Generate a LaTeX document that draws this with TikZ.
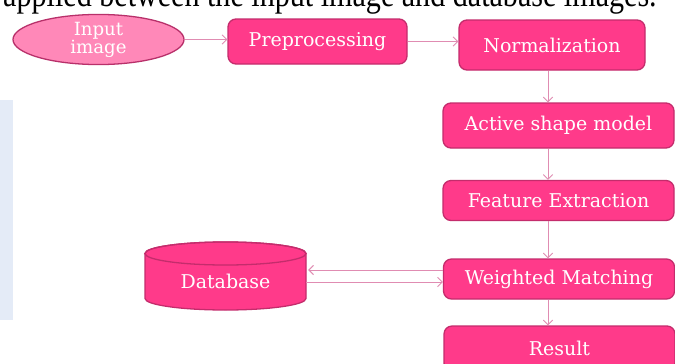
\documentclass[tikz,border=0pt]{standalone}
\usepackage{fontspec}
\setmainfont{DejaVu Serif}
\newfontfamily\topfont{Liberation Serif}
\usetikzlibrary{arrows.meta,shapes.geometric}
\definecolor{boxfill}{HTML}{FF3A8A}
\definecolor{boxline}{HTML}{C42C6C}
\definecolor{ellfill}{HTML}{FF88B8}
\definecolor{ellline}{HTML}{B8306A}
\definecolor{arrcol}{HTML}{E08CB2}
\definecolor{sidecol}{HTML}{E4EBF7}
\tikzset{
  stepbox/.style={draw=boxline, line width=1.1pt, fill=boxfill, rounded corners=0.24cm,
    text=white, font=\fontsize{16.2}{18}\selectfont, inner sep=0pt},
  startell/.style={ellipse, draw=ellline, line width=1.1pt, fill=ellfill,
    text=white, font=\fontsize{15.5}{15.5}\selectfont, align=center, inner sep=0pt},
  arr/.style={draw=arrcol, line width=0.8pt, -{Straight Barb[length=1.4mm,width=2.8mm]}},
}
\begin{document}
\begin{tikzpicture}[x=0.03cm,y=-0.03cm]
\useasboundingbox (0,0) rectangle (675,363);
\clip (0,0) rectangle (675,363);
\fill[white] (0,0) rectangle (675,363);
\fill[sidecol] (0,100) rectangle (13,320);
\node[anchor=base west, inner sep=0pt] (toptext) at (3,6.5)
  {\resizebox{19.6cm}{0.75cm}{\topfont\fontsize{25}{27}\selectfont applied between the input image and database images.}};
% nodes
\node[startell, minimum width=171*0.03cm, minimum height=49*0.03cm] (inp) at (98.5,39.5) {Input\\image};
\node[stepbox, minimum width=179*0.03cm, minimum height=45*0.03cm] (pre) at (317.5,41.5) {Preprocessing};
\node[stepbox, minimum width=186*0.03cm, minimum height=50*0.03cm] (norm) at (552,45) {Normalization};
\node[stepbox, minimum width=231*0.03cm, minimum height=45*0.03cm] (asm) at (558.5,125.5) {Active shape model};
\node[stepbox, minimum width=231*0.03cm, minimum height=40*0.03cm] (fe) at (558.5,200.5) {Feature Extraction};
\node[stepbox, minimum width=231*0.03cm, minimum height=40*0.03cm] (wm) at (559,279) {Weighted Matching};
\node[stepbox, minimum width=231*0.03cm, minimum height=45*0.03cm] (res) at (559.5,348.5) {Result};
% database cylinder
\node[minimum width=161*0.03cm, minimum height=68*0.03cm, inner sep=0pt] (db) at (225.5,276) {};
\filldraw[fill=boxfill, draw=boxline, line width=1.1pt]
  (145,253.5) -- (145,298.5) arc[start angle=180, end angle=360, x radius=2.415cm, y radius=0.345cm]
  -- (306,253.5) arc[start angle=0, end angle=180, x radius=2.415cm, y radius=0.345cm] -- cycle;
\draw[boxline, line width=1.1pt] (225.5,253.5) ellipse[x radius=2.415cm, y radius=0.345cm];
\node[text=white, font=\fontsize{16.2}{18}\selectfont] (dbtext) at (225.5,281) {Database};
% connectors
\draw[arr] (inp.east) -- (pre.west |- inp.east);
\draw[arr] (pre.east) -- (norm.west |- pre.east);
\draw[arr] (548,0 |- norm.south) -- (548,0 |- asm.north);
\draw[arr] (548,0 |- asm.south) -- (548,0 |- fe.north);
\draw[arr] (548,0 |- fe.south) -- (548,0 |- wm.north);
\draw[arr] (548,0 |- wm.south) -- (548,0 |- res.north);
\coordinate (dbU) at ([yshift=0.18cm]db.east);
\coordinate (dbL) at ([yshift=-0.18cm]db.east);
\draw[arr] (dbU -| wm.west) -- ([xshift=0.06cm]dbU);
\draw[arr] (dbL) -- (dbL -| wm.west);
\end{tikzpicture}
\end{document}
